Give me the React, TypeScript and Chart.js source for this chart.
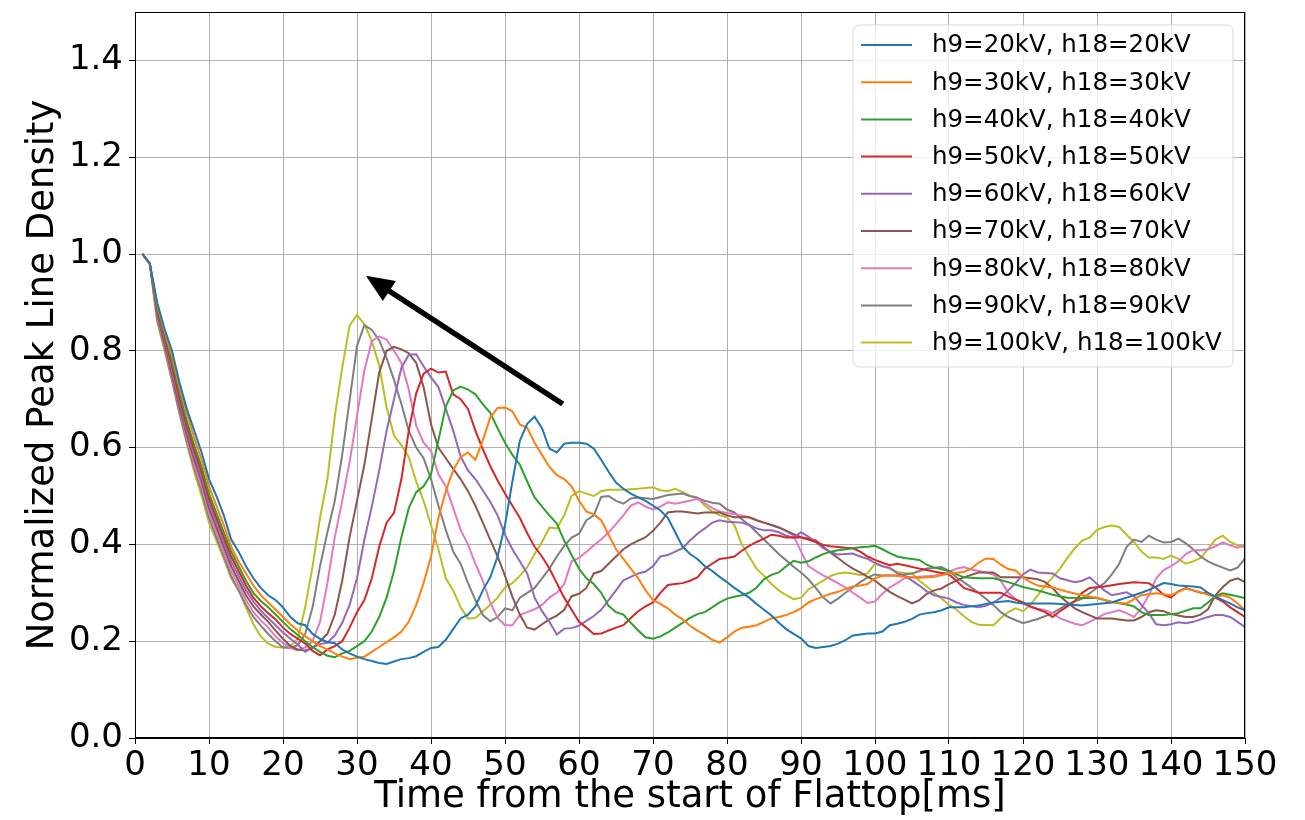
import React, { useEffect, useRef } from "react";
import { Chart, registerables } from "chart.js";

Chart.register(...registerables);

type Pt = [number, number];

// Normalized peak line density vs. time from flattop start, one trace per RF voltage setting
const s20: Pt[] = [[1,1.0],[2,0.98],[3,0.9],[4,0.845],[5,0.8],[6,0.735],[7,0.68],[8,0.635],[9,0.59],[10,0.535],[11,0.5],[12,0.46],[13,0.41],[14,0.385],[15,0.355],[16,0.33],[17,0.31],[18,0.295],[19,0.285],[20,0.27],[21,0.25],[22,0.237],[23,0.233],[24,0.215],[25,0.205],[26,0.198],[27,0.196],[28,0.183],[29,0.175],[30,0.168],[31,0.163],[32,0.159],[33,0.155],[34,0.153],[35,0.158],[36,0.163],[37,0.165],[38,0.169],[39,0.178],[40,0.186],[41,0.188],[42,0.203],[43,0.225],[44,0.247],[45,0.255],[46,0.272],[47,0.305],[48,0.332],[49,0.375],[50,0.44],[51,0.53],[52,0.614],[53,0.649],[54,0.664],[55,0.64],[56,0.598],[57,0.59],[58,0.608],[59,0.61],[60,0.61],[61,0.608],[62,0.598],[63,0.575],[64,0.55],[65,0.528],[66,0.515],[67,0.505],[68,0.497],[69,0.49],[70,0.48],[71,0.47],[72,0.455],[73,0.425],[74,0.395],[75,0.38],[76,0.37],[77,0.355],[78,0.345],[79,0.333],[80,0.322],[81,0.31],[82,0.3],[83,0.29],[84,0.277],[85,0.265],[86,0.253],[87,0.238],[88,0.225],[89,0.215],[90,0.206],[91,0.19],[92,0.186],[93,0.188],[94,0.19],[95,0.195],[96,0.202],[97,0.212],[98,0.214],[99,0.216],[100,0.216],[101,0.22],[102,0.233],[103,0.236],[104,0.24],[105,0.246],[106,0.255],[107,0.258],[108,0.26],[109,0.264],[110,0.27],[112,0.27],[114,0.274],[116,0.28],[118,0.283],[119,0.28],[120,0.278],[122,0.278],[124,0.278],[126,0.276],[128,0.274],[130,0.277],[132,0.28],[133,0.285],[134,0.29],[135,0.295],[136,0.3],[137,0.306],[138,0.313],[139,0.32],[140,0.318],[141,0.315],[142,0.314],[143,0.313],[144,0.311],[145,0.3],[146,0.292],[147,0.285],[148,0.278],[149,0.27],[150,0.264]];

const s30: Pt[] = [[1,1.0],[2,0.98],[3,0.895],[4,0.84],[5,0.79],[6,0.725],[7,0.67],[8,0.62],[9,0.575],[10,0.52],[11,0.48],[12,0.44],[13,0.395],[14,0.365],[15,0.34],[16,0.315],[17,0.295],[18,0.28],[19,0.265],[20,0.25],[21,0.235],[22,0.222],[23,0.21],[24,0.2],[25,0.19],[26,0.183],[27,0.175],[28,0.168],[29,0.163],[30,0.166],[31,0.168],[32,0.178],[33,0.188],[34,0.198],[35,0.208],[36,0.22],[37,0.24],[38,0.275],[39,0.32],[40,0.375],[41,0.455],[42,0.51],[43,0.553],[44,0.58],[45,0.59],[46,0.575],[47,0.615],[48,0.662],[49,0.682],[50,0.683],[51,0.675],[52,0.648],[53,0.641],[54,0.61],[55,0.585],[56,0.56],[57,0.543],[58,0.535],[59,0.52],[60,0.49],[61,0.468],[62,0.462],[63,0.45],[64,0.42],[65,0.39],[66,0.37],[67,0.35],[68,0.33],[69,0.305],[70,0.285],[71,0.277],[72,0.268],[73,0.255],[74,0.245],[75,0.232],[76,0.222],[77,0.213],[78,0.203],[79,0.197],[80,0.208],[81,0.22],[82,0.228],[83,0.23],[84,0.233],[85,0.24],[86,0.247],[87,0.25],[88,0.254],[89,0.26],[90,0.268],[91,0.28],[92,0.287],[93,0.292],[94,0.298],[95,0.302],[96,0.308],[97,0.313],[98,0.315],[99,0.318],[100,0.33],[101,0.335],[102,0.336],[104,0.333],[106,0.331],[108,0.333],[110,0.34],[112,0.343],[113,0.35],[114,0.362],[115,0.371],[116,0.37],[117,0.358],[118,0.349],[119,0.346],[120,0.332],[121,0.322],[122,0.315],[124,0.311],[126,0.302],[128,0.295],[130,0.29],[132,0.281],[134,0.278],[135,0.287],[136,0.295],[138,0.299],[140,0.295],[141,0.302],[142,0.309],[143,0.305],[144,0.301],[146,0.291],[147,0.295],[148,0.29],[149,0.278],[150,0.264]];

const s40: Pt[] = [[1,1.0],[2,0.98],[3,0.89],[4,0.835],[5,0.78],[6,0.715],[7,0.655],[8,0.605],[9,0.56],[10,0.505],[11,0.465],[12,0.425],[13,0.385],[14,0.355],[15,0.325],[16,0.3],[17,0.283],[18,0.27],[19,0.255],[20,0.24],[21,0.225],[22,0.213],[23,0.2],[24,0.188],[25,0.178],[26,0.17],[27,0.167],[28,0.175],[29,0.18],[30,0.19],[31,0.2],[32,0.22],[33,0.25],[34,0.29],[35,0.345],[36,0.415],[37,0.475],[38,0.508],[39,0.52],[40,0.545],[41,0.615],[42,0.685],[43,0.718],[44,0.726],[45,0.72],[46,0.71],[47,0.69],[48,0.672],[49,0.64],[50,0.61],[51,0.585],[52,0.565],[53,0.53],[54,0.497],[55,0.478],[56,0.46],[57,0.443],[58,0.408],[59,0.378],[60,0.35],[61,0.33],[62,0.318],[63,0.3],[64,0.273],[65,0.26],[66,0.255],[67,0.238],[68,0.222],[69,0.208],[70,0.205],[71,0.21],[72,0.218],[73,0.228],[74,0.238],[75,0.248],[76,0.256],[77,0.26],[78,0.27],[79,0.28],[80,0.288],[81,0.292],[82,0.295],[83,0.3],[84,0.311],[85,0.328],[86,0.337],[87,0.342],[88,0.355],[89,0.366],[90,0.362],[91,0.365],[92,0.373],[93,0.38],[94,0.385],[95,0.388],[96,0.39],[97,0.392],[98,0.394],[99,0.395],[100,0.397],[101,0.39],[102,0.382],[103,0.375],[104,0.372],[106,0.368],[107,0.358],[108,0.352],[110,0.345],[112,0.332],[114,0.33],[116,0.33],[118,0.322],[120,0.312],[122,0.305],[124,0.296],[126,0.29],[128,0.289],[130,0.289],[132,0.281],[134,0.276],[135,0.272],[136,0.26],[137,0.254],[139,0.254],[141,0.258],[143,0.268],[144,0.268],[145,0.28],[146,0.293],[147,0.299],[148,0.296],[150,0.289]];

const s50: Pt[] = [[1,1.0],[2,0.98],[3,0.885],[4,0.83],[5,0.77],[6,0.705],[7,0.645],[8,0.595],[9,0.55],[10,0.495],[11,0.455],[12,0.415],[13,0.375],[14,0.345],[15,0.315],[16,0.29],[17,0.272],[18,0.258],[19,0.245],[20,0.228],[21,0.215],[22,0.205],[23,0.195],[24,0.18],[25,0.171],[26,0.183],[27,0.19],[28,0.2],[29,0.228],[30,0.26],[31,0.285],[32,0.33],[33,0.395],[34,0.445],[35,0.465],[36,0.535],[37,0.635],[38,0.712],[39,0.753],[40,0.763],[41,0.755],[42,0.757],[43,0.71],[44,0.7],[45,0.68],[46,0.635],[47,0.597],[48,0.562],[49,0.532],[50,0.505],[51,0.48],[52,0.455],[53,0.423],[54,0.395],[55,0.375],[56,0.35],[57,0.32],[58,0.29],[59,0.265],[60,0.24],[61,0.228],[62,0.215],[63,0.216],[64,0.222],[65,0.228],[66,0.233],[67,0.248],[68,0.262],[69,0.272],[70,0.28],[71,0.3],[72,0.316],[73,0.318],[74,0.32],[75,0.325],[76,0.332],[77,0.35],[78,0.36],[79,0.37],[80,0.372],[81,0.375],[82,0.387],[83,0.397],[84,0.405],[85,0.412],[86,0.42],[87,0.418],[88,0.414],[90,0.414],[91,0.41],[92,0.405],[93,0.399],[94,0.396],[96,0.393],[97,0.392],[98,0.385],[99,0.375],[100,0.368],[101,0.362],[102,0.357],[103,0.36],[104,0.357],[106,0.35],[108,0.344],[110,0.338],[111,0.325],[112,0.31],[114,0.3],[116,0.3],[117,0.3],[118,0.292],[120,0.28],[121,0.272],[122,0.266],[123,0.26],[124,0.25],[125,0.262],[126,0.272],[127,0.283],[128,0.3],[129,0.31],[131,0.313],[133,0.318],[135,0.322],[137,0.32],[138,0.31],[139,0.296],[140,0.29],[141,0.303],[142,0.31],[143,0.305],[144,0.3],[145,0.299],[146,0.29],[147,0.282],[148,0.27],[149,0.26],[150,0.25]];

const s60: Pt[] = [[1,1.0],[2,0.98],[3,0.88],[4,0.825],[5,0.76],[6,0.695],[7,0.635],[8,0.585],[9,0.54],[10,0.485],[11,0.445],[12,0.405],[13,0.365],[14,0.335],[15,0.305],[16,0.282],[17,0.263],[18,0.248],[19,0.233],[20,0.218],[21,0.205],[22,0.193],[23,0.178],[24,0.187],[25,0.194],[26,0.197],[27,0.212],[28,0.238],[29,0.275],[30,0.33],[31,0.41],[32,0.478],[33,0.553],[34,0.635],[35,0.7],[36,0.765],[37,0.792],[38,0.793],[39,0.768],[40,0.745],[41,0.725],[42,0.68],[43,0.635],[44,0.582],[45,0.553],[46,0.535],[47,0.512],[48,0.488],[49,0.46],[50,0.42],[51,0.39],[52,0.365],[53,0.34],[54,0.29],[55,0.262],[56,0.24],[57,0.214],[58,0.226],[59,0.227],[60,0.232],[61,0.242],[62,0.252],[63,0.265],[64,0.285],[65,0.305],[66,0.326],[67,0.333],[68,0.34],[69,0.344],[70,0.355],[71,0.375],[72,0.378],[73,0.385],[74,0.392],[75,0.408],[76,0.422],[77,0.433],[78,0.445],[79,0.45],[80,0.447],[82,0.445],[83,0.44],[84,0.433],[85,0.429],[86,0.429],[87,0.425],[88,0.418],[89,0.414],[90,0.425],[91,0.416],[92,0.405],[93,0.392],[94,0.384],[95,0.379],[96,0.38],[97,0.381],[98,0.375],[99,0.37],[100,0.362],[101,0.355],[102,0.352],[103,0.34],[104,0.336],[105,0.325],[106,0.315],[107,0.303],[108,0.295],[110,0.288],[111,0.28],[112,0.275],[113,0.272],[114,0.27],[115,0.273],[116,0.28],[117,0.29],[118,0.305],[119,0.32],[120,0.338],[121,0.348],[122,0.342],[124,0.34],[125,0.33],[127,0.322],[128,0.325],[129,0.332],[130,0.318],[131,0.305],[132,0.295],[133,0.298],[134,0.301],[135,0.293],[136,0.275],[137,0.258],[138,0.235],[139,0.233],[140,0.235],[141,0.239],[142,0.237],[143,0.24],[144,0.245],[145,0.25],[146,0.254],[147,0.254],[148,0.25],[149,0.24],[150,0.229]];

const s70: Pt[] = [[1,1.0],[2,0.98],[3,0.875],[4,0.815],[5,0.75],[6,0.685],[7,0.625],[8,0.575],[9,0.53],[10,0.475],[11,0.435],[12,0.395],[13,0.355],[14,0.325],[15,0.295],[16,0.272],[17,0.255],[18,0.24],[19,0.222],[20,0.205],[21,0.19],[22,0.183],[23,0.181],[24,0.186],[25,0.2],[26,0.215],[27,0.255],[28,0.325],[29,0.415],[30,0.49],[31,0.565],[32,0.66],[33,0.755],[34,0.8],[35,0.808],[36,0.803],[37,0.795],[38,0.775],[39,0.725],[40,0.648],[41,0.6],[42,0.578],[43,0.556],[44,0.535],[45,0.51],[46,0.48],[47,0.445],[48,0.41],[49,0.375],[50,0.335],[51,0.292],[52,0.255],[53,0.228],[54,0.224],[55,0.235],[56,0.245],[57,0.253],[58,0.265],[59,0.293],[60,0.298],[61,0.31],[62,0.34],[63,0.345],[64,0.36],[65,0.375],[66,0.39],[67,0.4],[68,0.408],[69,0.415],[70,0.428],[71,0.445],[72,0.466],[73,0.468],[74,0.468],[76,0.464],[77,0.466],[79,0.466],[80,0.46],[81,0.456],[83,0.456],[84,0.45],[85,0.445],[86,0.44],[87,0.435],[88,0.428],[89,0.421],[90,0.415],[91,0.412],[92,0.408],[93,0.395],[94,0.383],[95,0.372],[96,0.36],[97,0.35],[98,0.342],[99,0.333],[100,0.325],[101,0.313],[102,0.302],[103,0.293],[104,0.286],[105,0.278],[106,0.285],[107,0.298],[108,0.305],[109,0.309],[110,0.318],[111,0.325],[112,0.332],[113,0.337],[114,0.342],[116,0.342],[117,0.332],[118,0.332],[120,0.332],[122,0.328],[123,0.322],[124,0.31],[125,0.293],[126,0.28],[127,0.268],[128,0.26],[130,0.247],[132,0.247],[134,0.243],[135,0.243],[136,0.25],[137,0.26],[138,0.264],[139,0.262],[140,0.256],[142,0.25],[143,0.25],[144,0.255],[145,0.266],[146,0.295],[147,0.312],[148,0.325],[149,0.33],[150,0.322]];

const s80: Pt[] = [[1,1.0],[2,0.98],[3,0.87],[4,0.81],[5,0.745],[6,0.68],[7,0.618],[8,0.565],[9,0.52],[10,0.465],[11,0.425],[12,0.385],[13,0.345],[14,0.315],[15,0.285],[16,0.26],[17,0.243],[18,0.228],[19,0.21],[20,0.196],[21,0.186],[22,0.181],[23,0.187],[24,0.2],[25,0.24],[26,0.32],[27,0.415],[28,0.49],[29,0.57],[30,0.665],[31,0.76],[32,0.82],[33,0.83],[34,0.823],[35,0.8],[36,0.775],[37,0.72],[38,0.645],[39,0.61],[40,0.593],[41,0.545],[42,0.52],[43,0.475],[44,0.43],[45,0.4],[46,0.36],[47,0.325],[48,0.28],[49,0.248],[50,0.233],[51,0.233],[52,0.254],[53,0.26],[54,0.266],[55,0.275],[56,0.29],[57,0.3],[58,0.318],[59,0.365],[60,0.372],[61,0.385],[62,0.398],[63,0.41],[64,0.425],[65,0.442],[66,0.46],[67,0.48],[68,0.487],[69,0.478],[70,0.472],[71,0.478],[72,0.487],[73,0.484],[74,0.487],[75,0.49],[76,0.494],[77,0.485],[78,0.475],[79,0.468],[80,0.465],[82,0.46],[83,0.456],[84,0.45],[85,0.445],[86,0.44],[87,0.435],[88,0.428],[89,0.418],[90,0.385],[91,0.355],[92,0.345],[93,0.336],[94,0.328],[95,0.32],[96,0.311],[97,0.3],[98,0.29],[99,0.279],[100,0.282],[101,0.298],[102,0.311],[103,0.32],[104,0.33],[106,0.333],[108,0.335],[110,0.343],[111,0.35],[112,0.353],[113,0.348],[115,0.342],[116,0.338],[117,0.325],[118,0.3],[119,0.287],[121,0.27],[123,0.264],[124,0.258],[125,0.247],[127,0.236],[128,0.233],[129,0.24],[131,0.256],[133,0.264],[134,0.258],[135,0.25],[136,0.268],[137,0.295],[138,0.33],[139,0.347],[140,0.355],[141,0.365],[142,0.38],[143,0.388],[144,0.388],[145,0.39],[146,0.396],[147,0.404],[148,0.398],[149,0.393],[150,0.398]];

const s90: Pt[] = [[1,1.0],[2,0.98],[3,0.865],[4,0.805],[5,0.74],[6,0.673],[7,0.612],[8,0.558],[9,0.51],[10,0.455],[11,0.415],[12,0.375],[13,0.335],[14,0.305],[15,0.275],[16,0.25],[17,0.232],[18,0.215],[19,0.2],[20,0.187],[21,0.186],[22,0.192],[23,0.215],[24,0.27],[25,0.355],[26,0.425],[27,0.49],[28,0.585],[29,0.697],[30,0.81],[31,0.853],[32,0.843],[33,0.822],[34,0.785],[35,0.74],[36,0.69],[37,0.635],[38,0.6],[39,0.578],[40,0.535],[41,0.48],[42,0.43],[43,0.385],[44,0.36],[45,0.32],[46,0.285],[47,0.254],[48,0.241],[49,0.25],[50,0.268],[51,0.264],[52,0.29],[53,0.3],[54,0.31],[55,0.33],[56,0.35],[57,0.375],[58,0.397],[59,0.414],[60,0.422],[61,0.45],[62,0.46],[63,0.498],[64,0.5],[65,0.49],[66,0.484],[67,0.495],[68,0.497],[70,0.494],[72,0.502],[74,0.505],[75,0.5],[76,0.496],[77,0.49],[78,0.486],[79,0.484],[80,0.472],[81,0.466],[82,0.452],[83,0.44],[84,0.425],[85,0.41],[86,0.395],[87,0.38],[88,0.367],[89,0.354],[90,0.342],[91,0.328],[92,0.31],[93,0.29],[94,0.278],[95,0.288],[96,0.3],[97,0.311],[98,0.322],[99,0.332],[100,0.338],[101,0.336],[103,0.336],[105,0.34],[107,0.35],[109,0.353],[110,0.345],[111,0.332],[112,0.322],[114,0.3],[116,0.275],[117,0.26],[118,0.25],[120,0.237],[122,0.246],[124,0.258],[126,0.276],[128,0.288],[130,0.31],[131,0.32],[132,0.338],[133,0.36],[134,0.395],[135,0.41],[136,0.405],[137,0.418],[138,0.41],[139,0.404],[140,0.405],[141,0.412],[142,0.402],[143,0.39],[144,0.375],[145,0.365],[146,0.358],[147,0.352],[148,0.346],[149,0.352],[150,0.371]];

const s100: Pt[] = [[1,1.0],[2,0.98],[3,0.86],[4,0.8],[5,0.738],[6,0.67],[7,0.608],[8,0.55],[9,0.5],[10,0.445],[11,0.408],[12,0.37],[13,0.33],[14,0.305],[15,0.27],[16,0.235],[17,0.21],[18,0.195],[19,0.188],[20,0.187],[21,0.19],[22,0.205],[23,0.27],[24,0.355],[25,0.455],[26,0.535],[27,0.665],[28,0.765],[29,0.852],[30,0.874],[31,0.855],[32,0.82],[33,0.77],[34,0.683],[35,0.625],[36,0.605],[37,0.58],[38,0.53],[39,0.49],[40,0.44],[41,0.39],[42,0.33],[43,0.305],[44,0.27],[45,0.247],[46,0.248],[47,0.262],[48,0.275],[49,0.29],[50,0.311],[51,0.32],[52,0.335],[53,0.353],[54,0.38],[55,0.405],[56,0.435],[57,0.433],[58,0.46],[59,0.5],[60,0.51],[61,0.505],[62,0.5],[63,0.51],[64,0.513],[66,0.513],[68,0.515],[70,0.518],[71,0.512],[72,0.51],[73,0.515],[74,0.508],[75,0.5],[76,0.497],[77,0.48],[78,0.468],[79,0.46],[80,0.456],[81,0.44],[82,0.4],[83,0.375],[84,0.35],[85,0.335],[86,0.318],[87,0.305],[88,0.295],[89,0.287],[90,0.29],[91,0.307],[92,0.316],[93,0.325],[94,0.335],[95,0.34],[96,0.342],[97,0.34],[98,0.337],[99,0.34],[100,0.36],[101,0.355],[102,0.35],[103,0.343],[104,0.341],[105,0.34],[106,0.325],[107,0.313],[108,0.3],[109,0.288],[110,0.275],[111,0.265],[112,0.252],[113,0.24],[114,0.234],[116,0.233],[117,0.248],[118,0.26],[119,0.268],[120,0.262],[121,0.275],[122,0.295],[123,0.315],[124,0.332],[125,0.35],[126,0.372],[127,0.392],[128,0.408],[129,0.414],[130,0.43],[131,0.436],[132,0.439],[133,0.436],[134,0.42],[135,0.405],[136,0.385],[137,0.373],[138,0.373],[139,0.37],[140,0.377],[141,0.37],[142,0.36],[143,0.365],[144,0.372],[145,0.39],[146,0.41],[147,0.418],[148,0.405],[149,0.398],[150,0.394]];

const seriesLabels = [
  "h9=20kV, h18=20kV",
  "h9=30kV, h18=30kV",
  "h9=40kV, h18=40kV",
  "h9=50kV, h18=50kV",
  "h9=60kV, h18=60kV",
  "h9=70kV, h18=70kV",
  "h9=80kV, h18=80kV",
  "h9=90kV, h18=90kV",
  "h9=100kV, h18=100kV",
];
const seriesData: Pt[][] = [s20, s30, s40, s50, s60, s70, s80, s90, s100];
const seriesColors = [
  "#1f77b4", "#ff7f0e", "#2ca02c", "#d62728", "#9467bd",
  "#8c564b", "#e377c2", "#7f7f7f", "#bcbd22",
];

const xTicks = [0, 10, 20, 30, 40, 50, 60, 70, 80, 90, 100, 110, 120, 130, 140, 150];
const yTicks = [0.0, 0.2, 0.4, 0.6, 0.8, 1.0, 1.2, 1.4];

// Arrow showing the peak moving earlier and higher with voltage (tail -> head, data units)
const arrowTail: Pt = [57.8, 0.69];
const arrowHead: Pt = [31.2, 0.955];

const FONT = "'DejaVu Sans', 'Liberation Sans', sans-serif";

const framePlugin = {
  id: "frameAndAnnotations",
  afterDatasetsDraw(chart: any) {
    const { ctx, chartArea, scales } = chart;
    // top and right spines
    ctx.save();
    ctx.strokeStyle = "#000";
    ctx.lineWidth = 1;
    ctx.strokeRect(chartArea.left + 0.5, chartArea.top + 0.5, chartArea.right - chartArea.left - 1, chartArea.bottom - chartArea.top - 1);
    ctx.restore();

    // arrow
    const x0 = scales.x.getPixelForValue(arrowTail[0]);
    const y0 = scales.y.getPixelForValue(arrowTail[1]);
    const x1 = scales.x.getPixelForValue(arrowHead[0]);
    const y1 = scales.y.getPixelForValue(arrowHead[1]);
    const ang = Math.atan2(y1 - y0, x1 - x0);
    const headLen = 28;
    const headHalf = 12;
    const bx = x1 - headLen * Math.cos(ang);
    const by = y1 - headLen * Math.sin(ang);
    ctx.save();
    ctx.strokeStyle = "#000";
    ctx.fillStyle = "#000";
    ctx.lineWidth = 5.5;
    ctx.beginPath();
    ctx.moveTo(x0, y0);
    ctx.lineTo(bx + 2 * Math.cos(ang), by + 2 * Math.sin(ang));
    ctx.stroke();
    ctx.beginPath();
    ctx.moveTo(x1, y1);
    ctx.lineTo(bx + headHalf * Math.sin(ang), by - headHalf * Math.cos(ang));
    ctx.lineTo(bx - headHalf * Math.sin(ang), by + headHalf * Math.cos(ang));
    ctx.closePath();
    ctx.fill();
    ctx.restore();
  },
  afterDraw(chart: any) {
    const { ctx, chartArea } = chart;
    const w = 380;
    const h = 342;
    const x = chartArea.right - 12 - w;
    const y = chartArea.top + 13;
    const r = 6;
    ctx.save();
    ctx.beginPath();
    ctx.moveTo(x + r, y);
    ctx.lineTo(x + w - r, y);
    ctx.arcTo(x + w, y, x + w, y + r, r);
    ctx.lineTo(x + w, y + h - r);
    ctx.arcTo(x + w, y + h, x + w - r, y + h, r);
    ctx.lineTo(x + r, y + h);
    ctx.arcTo(x, y + h, x, y + h - r, r);
    ctx.lineTo(x, y + r);
    ctx.arcTo(x, y, x + r, y, r);
    ctx.closePath();
    ctx.fillStyle = "rgba(255,255,255,0.8)";
    ctx.fill();
    ctx.strokeStyle = "rgba(204,204,204,0.8)";
    ctx.lineWidth = 1;
    ctx.stroke();

    ctx.font = `24.5px ${FONT}`;
    ctx.textBaseline = "middle";
    ctx.textAlign = "left";
    const rowH = 37.2;
    chart.data.datasets.forEach((ds: any, i: number) => {
      const cy = y + 20 + i * rowH;
      ctx.strokeStyle = ds.borderColor;
      ctx.lineWidth = 2;
      ctx.beginPath();
      ctx.moveTo(x + 8, cy);
      ctx.lineTo(x + 59, cy);
      ctx.stroke();
      ctx.fillStyle = "#000";
      ctx.fillText(ds.label, x + 79, cy + 1);
    });
    ctx.restore();
  },
};

export default function App() {
  const canvasRef = useRef<HTMLCanvasElement | null>(null);

  useEffect(() => {
    document.body.style.margin = "0";
    const canvas = canvasRef.current;
    if (!canvas) return;

    const chart = new Chart(canvas, {
      type: "line",
      data: {
        datasets: seriesData.map((pts, i) => ({
          label: seriesLabels[i],
          data: pts.map(([x, y]) => ({ x, y })),
          borderColor: seriesColors[i],
          backgroundColor: seriesColors[i],
          borderWidth: 2,
          pointRadius: 0,
          tension: 0,
          fill: false,
        })),
      },
      options: {
        animation: false,
        responsive: true,
        maintainAspectRatio: false,
        layout: { padding: { left: 0, right: 60, top: 12, bottom: 0 } },
        plugins: {
          legend: { display: false },
          tooltip: { enabled: false },
        },
        scales: {
          x: {
            type: "linear",
            min: 0,
            max: 150,
            afterBuildTicks: (scale: any) => {
              scale.ticks = xTicks.map((v) => ({ value: v }));
            },
            afterFit: (scale: any) => {
              scale.height = 82;
              scale.paddingLeft = 0;
              scale.paddingRight = 0;
            },
            ticks: {
              color: "#000",
              font: { family: FONT, size: 34 },
              padding: 2,
              maxRotation: 0,
              autoSkip: false,
              callback: (v: any) => String(v),
            },
            grid: { color: "#b0b0b0", lineWidth: 1, tickColor: "#000", tickLength: 6 },
            border: { display: true, color: "#000", width: 1 },
            title: {
              display: true,
              text: "Time from the start of Flattop[ms]",
              color: "#000",
              font: { family: FONT, size: 37 },
              padding: { top: 0, bottom: 0 },
            },
          },
          y: {
            type: "linear",
            min: 0,
            max: 1.5,
            afterBuildTicks: (scale: any) => {
              scale.ticks = yTicks.map((v) => ({ value: v }));
            },
            afterFit: (scale: any) => {
              scale.width = 135;
              scale.paddingTop = 0;
              scale.paddingBottom = 0;
            },
            ticks: {
              color: "#000",
              font: { family: FONT, size: 34 },
              padding: 6,
              autoSkip: false,
              callback: (v: any) => Number(v).toFixed(1),
            },
            grid: { color: "#b0b0b0", lineWidth: 1, tickColor: "#000", tickLength: 6 },
            border: { display: true, color: "#000", width: 1 },
            title: {
              display: true,
              text: "Normalized Peak Line Density",
              color: "#000",
              font: { family: FONT, size: 37 },
              padding: { top: 21, bottom: 0 },
            },
          },
        },
      },
      plugins: [framePlugin],
    });

    return () => {
      chart.destroy();
    };
  }, []);

  return (
    <div style={{ position: "relative", width: 1305, height: 820, background: "#fff" }}>
      <canvas ref={canvasRef} />
    </div>
  );
}
